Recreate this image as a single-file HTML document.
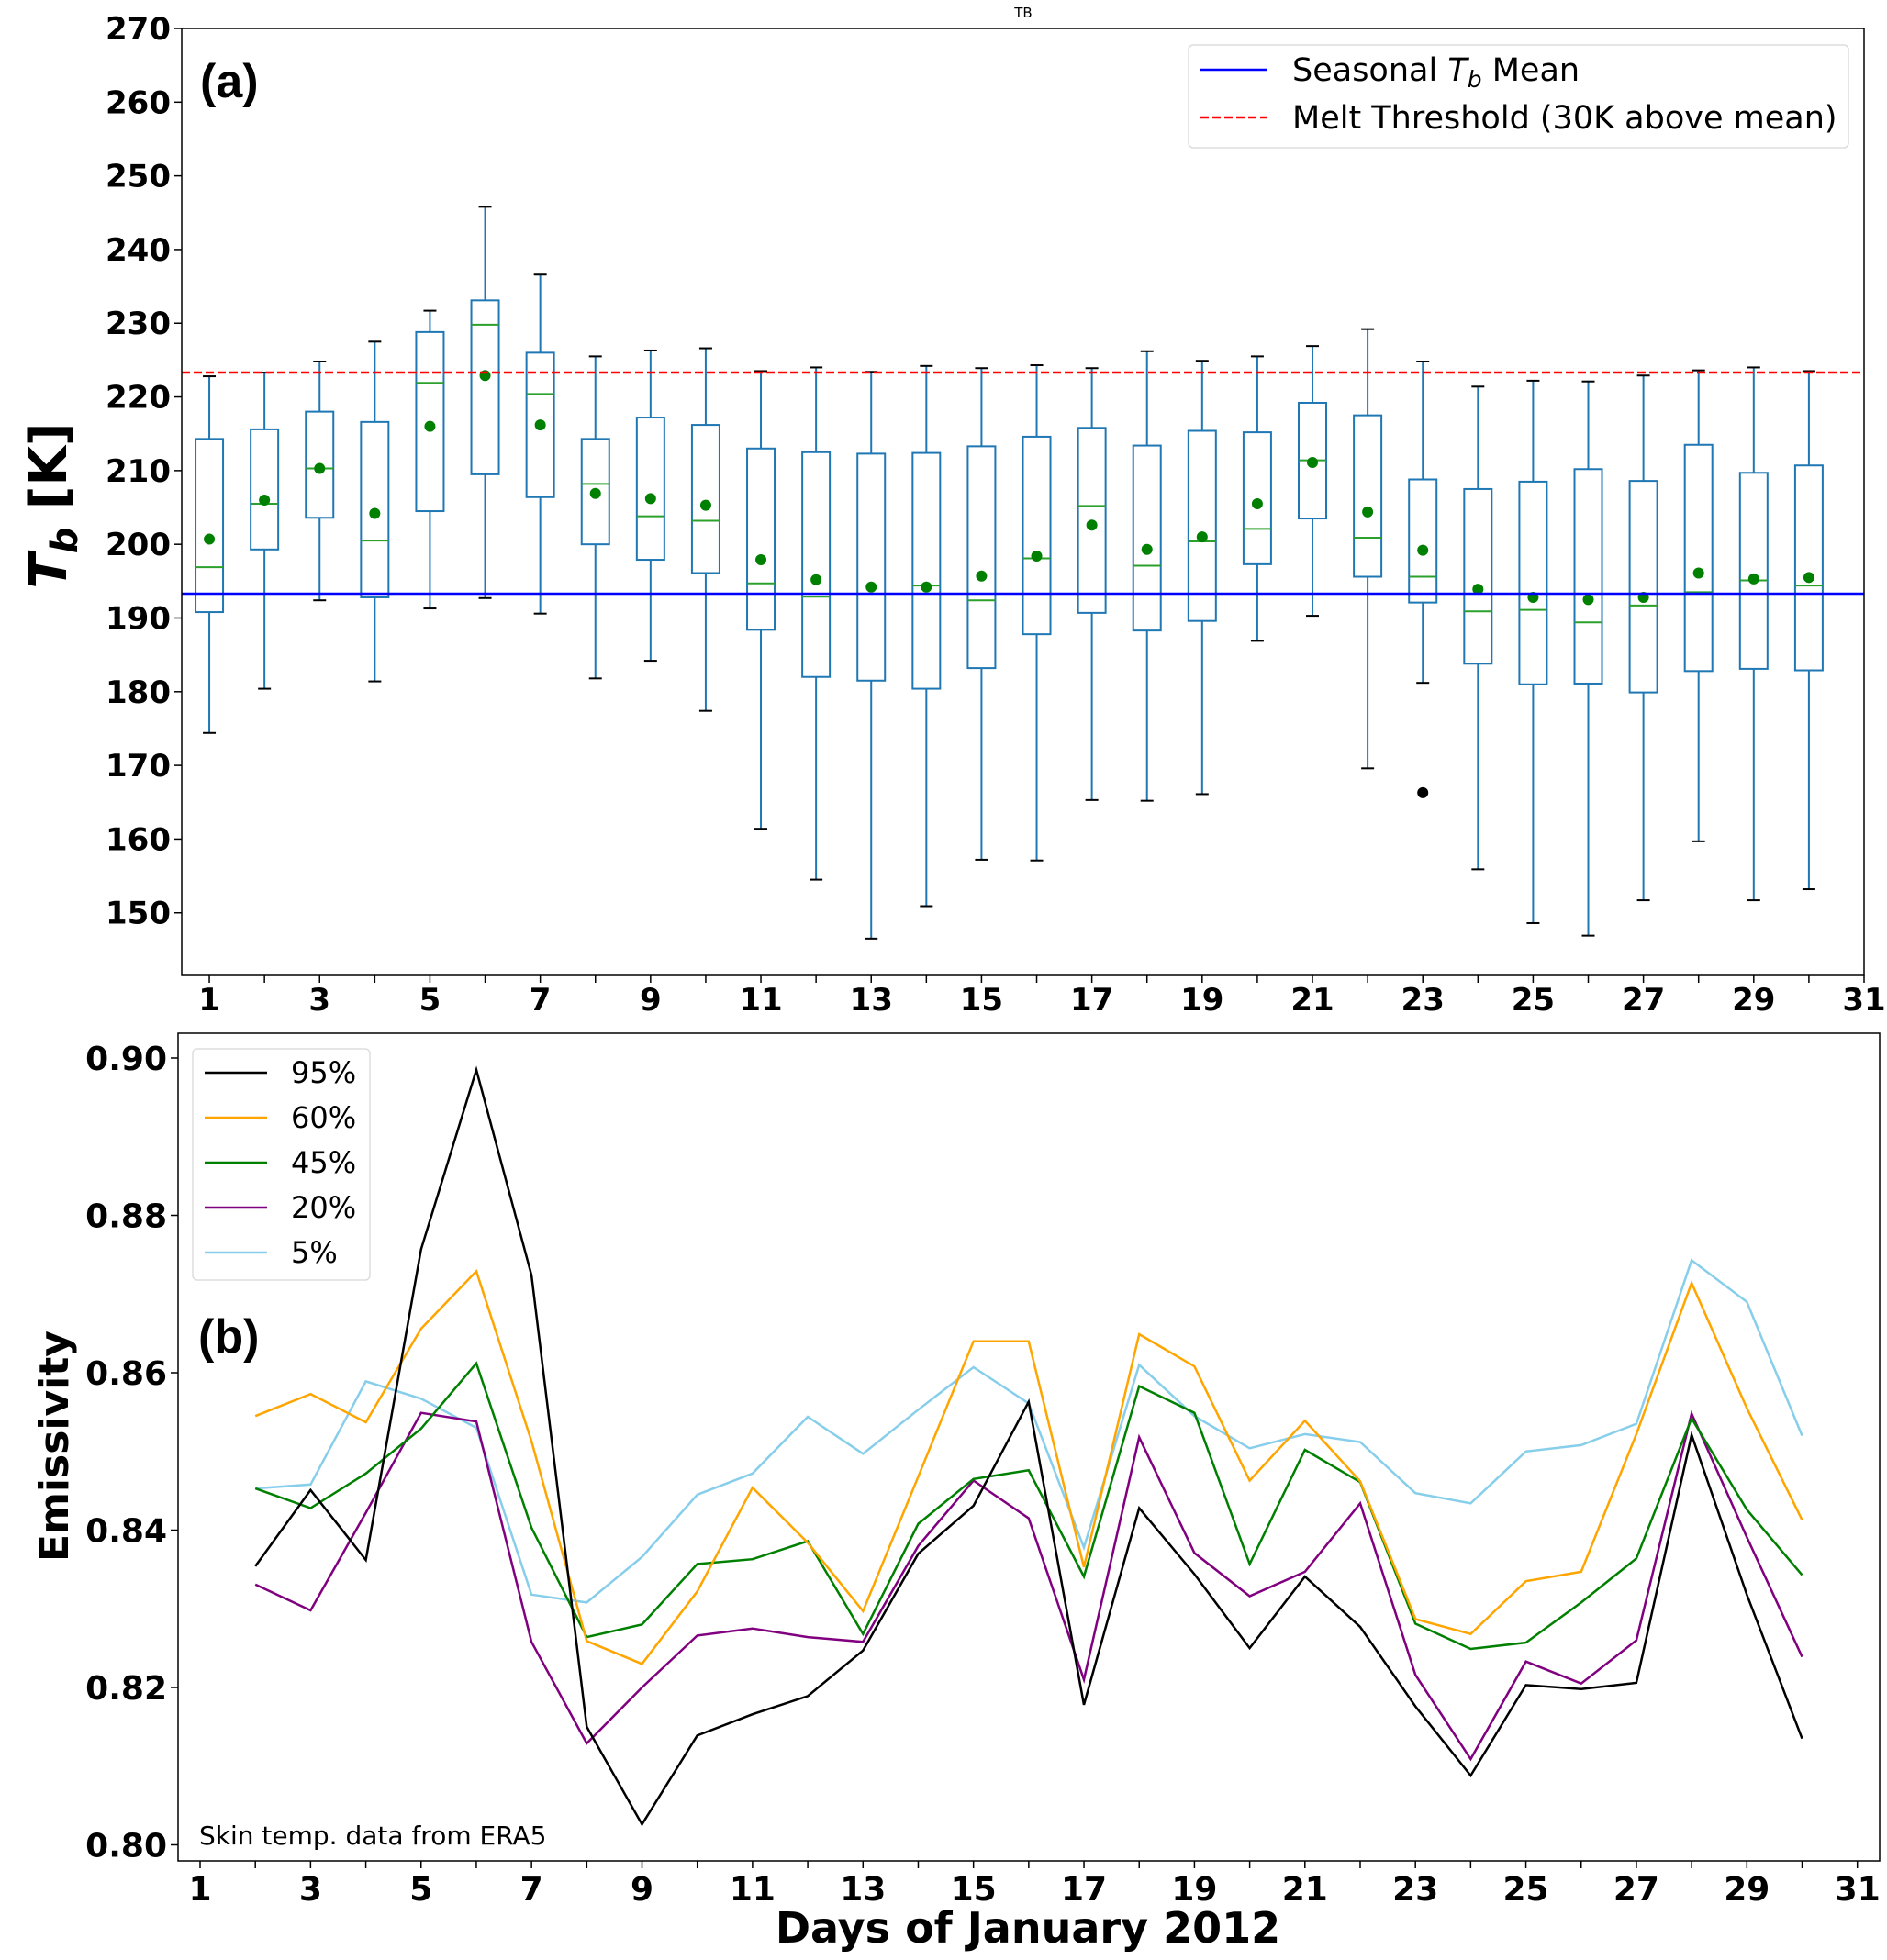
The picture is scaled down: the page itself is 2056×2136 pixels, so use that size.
<!DOCTYPE html>
<html><head><meta charset="utf-8"><style>
html,body{margin:0;padding:0;background:#fff}
svg{display:block;font-family:"DejaVu Sans","Liberation Sans",sans-serif}
</style></head><body>
<svg id="fig" width="2056" height="2136" viewBox="0 0 2056 2136" xmlns="http://www.w3.org/2000/svg">
<rect width="2056" height="2136" fill="#fff"/>
<text x="1115" y="19" font-size="15" text-anchor="middle">TB</text>
<g id="topPanel"></g>
<g id="botPanel"></g>
</svg>
<script>
const days = [1,2,3,4,5,6,7,8,9,10,11,12,13,14,15,16,17,18,19,20,21,22,23,24,25,26,27,28,29,30];
const whiskLo = [174.4,180.4,192.4,181.4,191.3,192.7,190.6,181.8,184.2,177.4,161.4,154.5,146.5,150.9,157.2,157.1,165.3,165.2,166.1,186.9,190.3,169.6,181.2,155.9,148.6,146.9,151.7,159.7,151.7,153.2];
const q1 = [190.8,199.3,203.6,192.8,204.5,209.5,206.4,200.0,197.9,196.1,188.4,182.0,181.5,180.4,183.2,187.8,190.7,188.3,189.6,197.3,203.5,195.6,192.1,183.8,181.0,181.1,179.9,182.8,183.1,182.9];
const med = [196.9,205.5,210.3,200.5,221.9,229.8,220.4,208.2,203.8,203.2,194.7,192.9,193.3,194.4,192.4,198.1,205.2,197.1,200.4,202.1,211.4,200.9,195.6,190.9,191.1,189.4,191.7,193.5,195.1,194.4];
const q3 = [214.3,215.6,218.0,216.6,228.8,233.1,226.0,214.3,217.2,216.2,213.0,212.5,212.3,212.4,213.3,214.6,215.8,213.4,215.4,215.2,219.2,217.5,208.8,207.5,208.5,210.2,208.6,213.5,209.7,210.7];
const whiskHi = [222.8,223.3,224.8,227.5,231.7,245.8,236.6,225.5,226.3,226.6,223.5,224.0,223.4,224.2,223.9,224.3,223.9,226.2,224.9,225.5,226.9,229.2,224.8,221.4,222.2,222.1,222.9,223.6,224.0,223.5];
const means = [200.7,206.0,210.3,204.2,216.0,222.9,216.2,206.9,206.2,205.3,197.9,195.2,194.2,194.2,195.7,198.4,202.6,199.3,201.0,205.5,211.1,204.4,199.2,193.9,192.8,192.5,192.8,196.1,195.3,195.5];
const outlierDays = [23];
const outlierVals = [166.3];
const seasonalMean = 193.3;
const meltThreshold = 223.3;
const topYTicks = [150,160,170,180,190,200,210,220,230,240,250,260,270];
const xTickLabels = [1,3,5,7,9,11,13,15,17,19,21,23,25,27,29,31];

const emisDays = [2,3,4,5,6,7,8,9,10,11,12,13,14,15,16,17,18,19,20,21,22,23,24,25,26,27,28,29,30];
const s95 = [0.8354,0.8451,0.8362,0.8757,0.8985,0.8724,0.8150,0.8026,0.8139,0.8166,0.8189,0.8247,0.8370,0.8431,0.8563,0.8178,0.8428,0.8344,0.8250,0.8341,0.8277,0.8176,0.8088,0.8203,0.8198,0.8206,0.8521,0.8318,0.8135];
const s60 = [0.8545,0.8573,0.8537,0.8656,0.8729,0.8513,0.8259,0.8230,0.8322,0.8454,0.8384,0.8297,0.8468,0.8640,0.8640,0.8353,0.8649,0.8608,0.8463,0.8539,0.8462,0.8287,0.8268,0.8335,0.8347,0.8522,0.8714,0.8555,0.8413];
const s45 = [0.8453,0.8428,0.8472,0.8529,0.8612,0.8403,0.8264,0.8280,0.8357,0.8363,0.8386,0.8268,0.8408,0.8465,0.8476,0.8341,0.8583,0.8549,0.8357,0.8502,0.8461,0.8281,0.8249,0.8257,0.8308,0.8364,0.8542,0.8426,0.8343];
const s20 = [0.8331,0.8298,0.8422,0.8549,0.8538,0.8258,0.8129,0.8200,0.8266,0.8275,0.8264,0.8258,0.8380,0.8463,0.8415,0.8210,0.8518,0.8371,0.8316,0.8347,0.8434,0.8216,0.8109,0.8233,0.8205,0.8260,0.8548,0.8391,0.8239];
const s5 = [0.8453,0.8458,0.8589,0.8567,0.8530,0.8318,0.8308,0.8366,0.8445,0.8472,0.8544,0.8497,0.8553,0.8607,0.8561,0.8378,0.8610,0.8545,0.8504,0.8522,0.8512,0.8447,0.8434,0.8500,0.8508,0.8535,0.8743,0.8690,0.8520];
const seriesNames = ["95%","60%","45%","20%","5%"];
const botYTicks = [0.80,0.82,0.84,0.86,0.88,0.90];

const NS="http://www.w3.org/2000/svg";
function mk(parent,tag,attrs,text){const e=document.createElementNS(NS,tag);for(const k in attrs)e.setAttribute(k,attrs[k]);if(text!==undefined)e.textContent=text;parent.appendChild(e);return e;}

// ---------- TOP PANEL ----------
const topG=document.getElementById('topPanel');
const TL=198,TR=2031,TT=31,TB=1063;
const tx=d=>TL+(d-0.5)*(TR-TL)/30.5;
const ty=v=>TT+(270-v)*(TB-TT)/128.5;
const BC='#1f77b4';
for(let i=0;i<days.length;i++){
  const g=mk(topG,'g',{});
  
  
  const x=tx(days[i]);
  mk(g,'line',{x1:x,x2:x,y1:ty(whiskHi[i]),y2:ty(q3[i]),stroke:BC,'stroke-width':2});
  mk(g,'line',{x1:x,x2:x,y1:ty(q1[i]),y2:ty(whiskLo[i]),stroke:BC,'stroke-width':2});
  mk(g,'line',{x1:x-7,x2:x+7,y1:ty(whiskHi[i]),y2:ty(whiskHi[i]),stroke:'#000','stroke-width':2});
  mk(g,'line',{x1:x-7,x2:x+7,y1:ty(whiskLo[i]),y2:ty(whiskLo[i]),stroke:'#000','stroke-width':2});
  mk(g,'rect',{x:x-15,y:ty(q3[i]),width:30,height:ty(q1[i])-ty(q3[i]),fill:'none',stroke:BC,'stroke-width':2});
  mk(g,'line',{x1:x-15,x2:x+15,y1:ty(med[i]),y2:ty(med[i]),stroke:'#2ca02c','stroke-width':2});
  const c=mk(g,'circle',{cx:x,cy:ty(means[i]),r:6,fill:'#008000'});
  
  
}
for(let i=0;i<outlierDays.length;i++){
  const c=mk(topG,'circle',{cx:tx(outlierDays[i]),cy:ty(outlierVals[i]),r:6,fill:'#000'});
  
  
}
const ml=mk(topG,'line',{x1:TL,x2:TR,y1:ty(seasonalMean),y2:ty(seasonalMean),stroke:'#0000ff','stroke-width':2.5});


const th=mk(topG,'line',{x1:TL,x2:TR,y1:ty(meltThreshold),y2:ty(meltThreshold),stroke:'#ff0000','stroke-width':2.5,'stroke-dasharray':'9,4'});


const tf=mk(topG,'rect',{x:TL,y:TT,width:TR-TL,height:TB-TT,fill:'none',stroke:'#000','stroke-width':1.5});


for(const v of topYTicks){
  const y=ty(v);
  mk(topG,'line',{x1:TL-8,x2:TL,y1:y,y2:y,stroke:'#000','stroke-width':1.5});
  const tt=mk(topG,'text',{x:TL-12,y:y+12,'font-size':34,'font-weight':'bold','text-anchor':'end'},String(v));
  
  
}
for(let d=1;d<=31;d++){
  mk(topG,'line',{x1:tx(d),x2:tx(d),y1:TB,y2:TB+8,stroke:'#000','stroke-width':1.5});
}
for(const d of xTickLabels){
  const tt=mk(topG,'text',{x:tx(d),y:TB+38,'font-size':34,'font-weight':'bold','text-anchor':'middle'},String(d));
  
  
}
let lbl=mk(topG,'text',{x:218,y:106,'font-size':52,'font-weight':'bold','font-family':'Liberation Sans Narrow, Liberation Sans, sans-serif'},'(a)');


lbl=mk(topG,'text',{transform:'translate(72,551) rotate(-90)','font-size':56,'font-weight':'bold','text-anchor':'middle'});


lbl.innerHTML='<tspan font-style="italic">T</tspan><tspan font-style="italic" font-size="40" dy="12">b</tspan><tspan dy="-12"> [K]</tspan>';
const lg=mk(topG,'g',{});


mk(lg,'rect',{x:1295,y:49,width:719,height:112,rx:5,fill:'#fff',stroke:'#ddd','stroke-width':1.5});
mk(lg,'line',{x1:1308,x2:1380,y1:76,y2:76,stroke:'#0000ff','stroke-width':2.5});
mk(lg,'line',{x1:1308,x2:1380,y1:128,y2:128,stroke:'#ff0000','stroke-width':2.5,'stroke-dasharray':'9,4'});
lbl=mk(lg,'text',{x:1408,y:88,'font-size':35});


lbl.innerHTML='Seasonal <tspan font-style="italic">T</tspan><tspan font-style="italic" font-size="25" dy="7">b</tspan><tspan dy="-7"> Mean</tspan>';
lbl=mk(lg,'text',{x:1408,y:140,'font-size':35},'Melt Threshold (30K above mean)');



// ---------- BOTTOM PANEL ----------
const botG=document.getElementById('botPanel');
const BL=194,BR=2048,BT=1126,BB=2028;
const bx=d=>218+(d-1)*60.19;
const by=v=>2010.5-(v-0.80)*8575;
const colors=['#000000','#ffa500','#008000','#800080','#87ceeb'];
const allS=[s95,s60,s45,s20,s5];
for(let k=allS.length-1;k>=0;k--){
  const pts=emisDays.map((d,i)=>bx(d).toFixed(1)+','+by(allS[k][i]).toFixed(1)).join(' ');
  const p=mk(botG,'polyline',{points:pts,fill:'none',stroke:colors[k],'stroke-width':2.5});
  
  
}
const bf=mk(botG,'rect',{x:BL,y:BT,width:BR-BL,height:BB-BT,fill:'none',stroke:'#000','stroke-width':1.5});


for(const v of botYTicks){
  const y=by(v);
  mk(botG,'line',{x1:BL-8,x2:BL,y1:y,y2:y,stroke:'#000','stroke-width':1.5});
  const tt=mk(botG,'text',{x:BL-12,y:y+13,'font-size':36,'font-weight':'bold','text-anchor':'end'},v.toFixed(2));
  
  
}
for(let d=1;d<=31;d++){
  mk(botG,'line',{x1:bx(d),x2:bx(d),y1:BB,y2:BB+8,stroke:'#000','stroke-width':1.5});
}
for(const d of xTickLabels){
  const tt=mk(botG,'text',{x:bx(d),y:BB+43,'font-size':36,'font-weight':'bold','text-anchor':'middle'},String(d));
  
  
}
lbl=mk(botG,'text',{x:1120,y:2117,'font-size':46,'font-weight':'bold','text-anchor':'middle'},'Days of January 2012');


lbl=mk(botG,'text',{transform:'translate(74,1576) rotate(-90)','font-size':44,'font-weight':'bold','text-anchor':'middle'},'Emissivity');


lbl=mk(botG,'text',{x:216,y:1474,'font-size':52,'font-weight':'bold','font-family':'Liberation Sans Narrow, Liberation Sans, sans-serif'},'(b)');


lbl=mk(botG,'text',{x:217,y:2010,'font-size':28},'Skin temp. data from ERA5');


const bl=mk(botG,'g',{});


mk(bl,'rect',{x:210,y:1143,width:193,height:252,rx:5,fill:'#fff',stroke:'#ddd','stroke-width':1.5});
for(let k=0;k<seriesNames.length;k++){
  const y=1169+k*49;
  mk(bl,'line',{x1:223,x2:291,y1:y,y2:y,stroke:colors[k],'stroke-width':2.5});
  const tt=mk(bl,'text',{x:317,y:y+11,'font-size':32},seriesNames[k]);
  
  
}
</script>
</body></html>
